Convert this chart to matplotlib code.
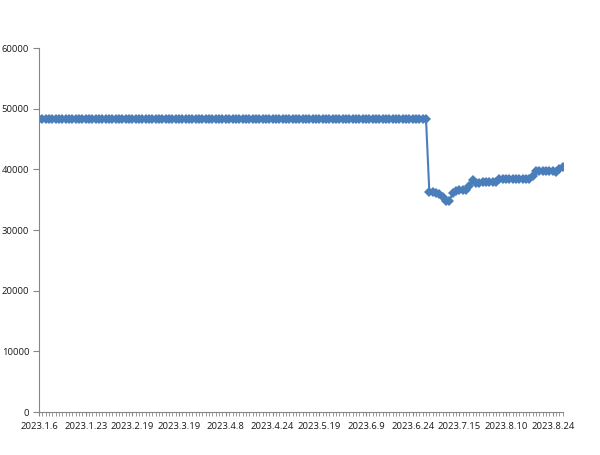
import numpy as np
from matplotlib import pyplot as plt

# values, one per category
flat_level = [48300] * 117
after_drop = [
    36200, 36200, 36100, 35900, 35400, 34800, 34800, 36100, 36500, 36600,
    36600, 36600, 37300, 38200, 37800, 37800, 37900, 37900, 37900, 37900,
    37900, 38400, 38400, 38400, 38400, 38400, 38400, 38400, 38400, 38400,
    38400, 38900, 39800, 39800, 39800, 39800, 39800, 39800, 39600, 40000,
    40400,
]
values = flat_level + after_drop

tick_labels = [
    "2023.1.6", "2023.1.23", "2023.2.19", "2023.3.19", "2023.4.8",
    "2023.4.24", "2023.5.19", "2023.6.9", "2023.6.24", "2023.7.15",
    "2023.8.10", "2023.8.24",
]
label_step = 14

plt.rcParams["font.family"] = ["Open Sans", "DejaVu Sans"]

fig = plt.figure(figsize=(6, 4.55), dpi=100)
ax = fig.add_axes([0.065, 0.0945, 0.873, 0.80])

x = np.arange(len(values))
ax.plot(x, values, color="#4A7EBB", linewidth=1.5, marker="D",
        markersize=4.8, markeredgewidth=0)

ax.set_xlim(0, len(values) - 1)
ax.set_ylim(0, 60000)
ax.set_yticks(range(0, 60001, 10000))
ax.set_xticks(np.arange(len(tick_labels)) * label_step)
ax.set_xticklabels(tick_labels)
ax.set_xticks(x, minor=True)

for side in ["top", "right"]:
    ax.spines[side].set_visible(False)
for side in ["left", "bottom"]:
    ax.spines[side].set_color("#868686")
    ax.spines[side].set_linewidth(0.8)

ax.tick_params(axis="both", which="both", direction="out", color="#868686",
               labelsize=6.8, labelcolor="#1a1a1a")
ax.tick_params(axis="x", which="both", length=3, pad=4)
ax.tick_params(axis="y", length=4, pad=3)

fig.savefig("out.png", dpi=100)
